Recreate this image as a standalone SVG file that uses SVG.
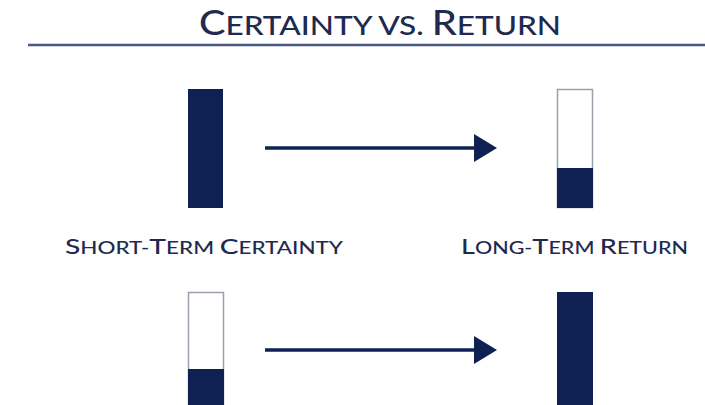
<svg xmlns="http://www.w3.org/2000/svg" width="705" height="405" viewBox="0 0 705 405">
<style>
text{font-family:Lato,"Open Sans","DejaVu Sans",sans-serif;fill:#1e2a4f;}
.title{font-size:34px;font-weight:500;}
.title .sc{font-size:27px;}
.lbl{font-size:22px;font-weight:500;}
.lbl .sc{font-size:17.5px;}
.fill{fill:#0e2152;}
.outline{fill:#ffffff;stroke:#9aa0ab;stroke-width:1.5;}
.conn{stroke:#0e2152;stroke-width:3.5;fill:none;}
</style>
<rect width="705" height="405" fill="#ffffff"/>
<g id="title">
<text class="title" x="380" y="35" text-anchor="middle" textLength="362" lengthAdjust="spacingAndGlyphs">C<tspan class="sc">ERTAINTY VS. </tspan>R<tspan class="sc">ETURN</tspan></text>
<line x1="28" y1="45" x2="705" y2="45" stroke="#4a5a85" stroke-width="2.5"/>
</g>
<g id="bar-short-top">
<rect class="fill" x="188" y="89" width="35" height="119"/>
</g>
<g id="bar-long-top">
<rect class="outline" x="557.5" y="89.5" width="35" height="118"/>
<rect class="fill" x="557" y="168" width="36" height="40"/>
</g>
<g id="label-short">
<text class="lbl" x="65" y="254" textLength="278" lengthAdjust="spacingAndGlyphs">S<tspan class="sc">HORT-</tspan>T<tspan class="sc">ERM </tspan>C<tspan class="sc">ERTAINTY</tspan></text>
</g>
<g id="label-long">
<text class="lbl" x="461" y="254" textLength="227" lengthAdjust="spacingAndGlyphs">L<tspan class="sc">ONG-</tspan>T<tspan class="sc">ERM </tspan>R<tspan class="sc">ETURN</tspan></text>
</g>
<g id="bar-short-bottom">
<rect class="outline" x="188.5" y="292.5" width="35" height="130"/>
<rect class="fill" x="188" y="369" width="36" height="50"/>
</g>
<g id="bar-long-bottom">
<rect class="fill" x="557" y="292" width="36" height="130"/>
</g>
<g id="connectors">
<line class="conn" x1="265" y1="148" x2="478" y2="148"/>
<polygon class="fill" points="474,134 497,148 474,162"/>
<line class="conn" x1="265" y1="350" x2="478" y2="350"/>
<polygon class="fill" points="474,336 497,350 474,364"/>
</g>
</svg>
